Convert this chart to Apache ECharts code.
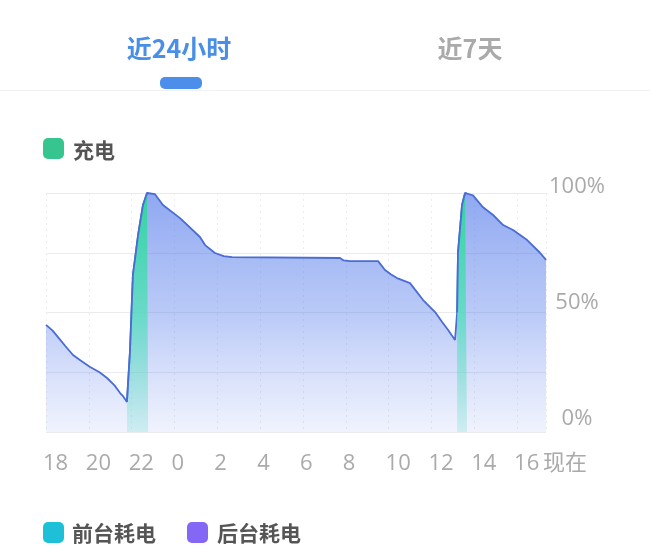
<!DOCTYPE html>
<html>
<head>
<meta charset="utf-8">
<script src="https://cdn.jsdelivr.net/npm/echarts@6/dist/echarts.min.js"></script>
<style>
html,body{margin:0;padding:0;background:#fff;}
#chart{width:650px;height:556px;}
</style>
</head>
<body>
<div id="chart"></div>
<script>
// Hours elapsed since 18:00 yesterday, and battery level (%)
const timeHours = [0, 0.3, 0.56, 0.9, 1.26, 1.6, 2.06, 2.5, 2.85, 3.2, 3.46, 3.6, 3.78, 3.92, 4.06, 4.30, 4.53, 4.72, 4.77, 5.09, 5.46, 6.26, 7.19, 7.43, 7.89, 8.3, 8.69, 13.73, 13.9, 14.2, 15.51, 15.83, 16.1, 16.39, 17.0, 17.61, 18.17, 18.5, 18.78, 19.1, 19.2, 19.24, 19.43, 19.57, 19.66, 19.94, 20.41, 20.88, 21.35, 21.81, 22.47, 23.08, 23.35];
const batteryLevel = [44.8, 42.5, 39.7, 36, 32.2, 30, 27.2, 25, 22.6, 19.5, 16.3, 15, 12.6, 33.5, 65.7, 82.4, 95, 100, 100, 99.5, 95, 89.5, 81.6, 78.2, 74.9, 73.6, 73.2, 72.8, 71.8, 71.5, 71.5, 67.8, 66, 64.4, 62.3, 55.2, 50.2, 46, 42.7, 38.5, 50, 75, 95, 100, 99.8, 99, 94, 90.8, 86.6, 84.5, 80.3, 74.9, 72];
// Charging windows (start, end) in the same hour units
const chargeWindows = [[3.78, 4.77], [19.2, 19.66]];
const startHour = 18;
const endHours = 23.35;
const yTicks = [0, 50, 100];
const tabLabels = ['近24小时', '近7天'];
const legendTop = ['充电'];
const legendBottom = ['前台耗电', '后台耗电'];

const points = timeHours.map((t, i) => [t, batteryLevel[i]]);
const lineColor = '#4a6cd4';

const blueArea = new echarts.graphic.LinearGradient(0, 0, 0, 1, [
  {offset: 0, color: 'rgba(74,115,232,0.62)'},
  {offset: 0.5, color: 'rgba(90,128,236,0.42)'},
  {offset: 1, color: 'rgba(110,140,240,0.10)'}
]);
const greenArea = () => new echarts.graphic.LinearGradient(0, 0, 0, 1, [
  {offset: 0, color: 'rgba(52,212,160,1)'},
  {offset: 0.5, color: 'rgba(84,222,188,0.8)'},
  {offset: 1, color: 'rgba(120,222,210,0.28)'}
]);

const series = [{
  type: 'line',
  name: 'battery',
  data: points,
  symbol: 'none',
  lineStyle: {color: lineColor, width: 1.8},
  areaStyle: {color: blueArea, opacity: 1},
  z: 2
}];
chargeWindows.forEach((w, k) => {
  series.push({
    type: 'line',
    name: '充电' + k,
    data: points.filter(p => p[0] >= w[0] - 1e-9 && p[0] <= w[1] + 1e-9),
    symbol: 'none',
    lineStyle: {color: lineColor, width: 1.8},
    areaStyle: {color: greenArea(), opacity: 1},
    z: 3
  });
});

const font = 'Noto Sans CJK SC';
const numFont = "'Open Sans', 'Noto Sans CJK SC'";
const yShift = {0: 26, 50: 20, 100: 12};
const chart = echarts.init(document.getElementById('chart'), null, {renderer: 'canvas'});
chart.setOption({
  animation: false,
  backgroundColor: '#fff',
  textStyle: {fontFamily: font},
  grid: {left: 46, right: 104, top: 193, bottom: 124, containLabel: false},
  xAxis: {
    type: 'value',
    min: 0,
    max: endHours,
    interval: 2,
    axisLine: {show: false},
    axisTick: {show: false},
    splitLine: {show: true, lineStyle: {color: '#ececec', type: [2, 4], width: 1}},
    axisLabel: {
      showMinLabel: true,
      showMaxLabel: true,
      align: 'left',
      margin: 21,
      fontSize: 22,
      color: '#aaaaaa',
      fontFamily: numFont,
      padding: [0, 0, 0, -3],
      formatter: v => Math.abs(v - endHours) < 1e-6 ? '现在' : String((startHour + Math.round(v)) % 24)
    }
  },
  yAxis: {
    type: 'value',
    position: 'right',
    min: 0,
    max: 100,
    interval: 25,
    axisLine: {show: false},
    axisTick: {show: false},
    splitLine: {show: true, lineStyle: {color: '#ebebeb', width: 1}},
    axisLabel: {
      align: 'center',
      verticalAlign: 'middle',
      margin: 31,
      fontSize: 22,
      color: '#aaaaaa',
      fontFamily: numFont,
      formatter: v => yTicks.indexOf(v) >= 0 ? '{p' + v + '|' + v + '%}' : '',
      rich: {
        p0: {fontSize: 22, color: '#aaaaaa', fontFamily: numFont, padding: [0, 0, yShift[0], 0]},
        p50: {fontSize: 22, color: '#aaaaaa', fontFamily: numFont, padding: [0, 0, yShift[50], 0]},
        p100: {fontSize: 22, color: '#aaaaaa', fontFamily: numFont, padding: [0, 0, yShift[100], 0]}
      }
    }
  },
  series: series,
  graphic: [
    {type: 'text', x: 179, y: 48, style: {text: tabLabels[0], fontSize: 25, fontWeight: 'bold', fill: '#4a8fe6', fontFamily: font, textAlign: 'center', textVerticalAlign: 'middle'}},
    {type: 'text', x: 470, y: 48, style: {text: tabLabels[1], fontSize: 25, fontWeight: 'bold', fill: '#aaaaaa', fontFamily: font, textAlign: 'center', textVerticalAlign: 'middle'}},
    {type: 'line', shape: {x1: 0, y1: 90.5, x2: 650, y2: 90.5}, style: {stroke: '#f1f1f1', lineWidth: 1}},
    {type: 'rect', shape: {x: 160, y: 77, width: 42, height: 12, r: 5}, style: {fill: '#4b8feb'}},
    {type: 'rect', shape: {x: 43, y: 138, width: 21, height: 21, r: 5}, style: {fill: '#36c58e'}},
    {type: 'text', x: 73, y: 150, style: {text: legendTop[0], fontSize: 21, fontWeight: 'bold', fill: '#555555', fontFamily: font, textVerticalAlign: 'middle'}},
    {type: 'rect', shape: {x: 43, y: 522, width: 21, height: 21, r: 5}, style: {fill: '#1ec0d8'}},
    {type: 'text', x: 72, y: 533, style: {text: legendBottom[0], fontSize: 21, fontWeight: 'bold', fill: '#555555', fontFamily: font, textVerticalAlign: 'middle'}},
    {type: 'rect', shape: {x: 187, y: 522, width: 21, height: 21, r: 5}, style: {fill: '#8567f6'}},
    {type: 'text', x: 217, y: 533, style: {text: legendBottom[1], fontSize: 21, fontWeight: 'bold', fill: '#555555', fontFamily: font, textVerticalAlign: 'middle'}}
  ]
});
</script>
</body>
</html>
